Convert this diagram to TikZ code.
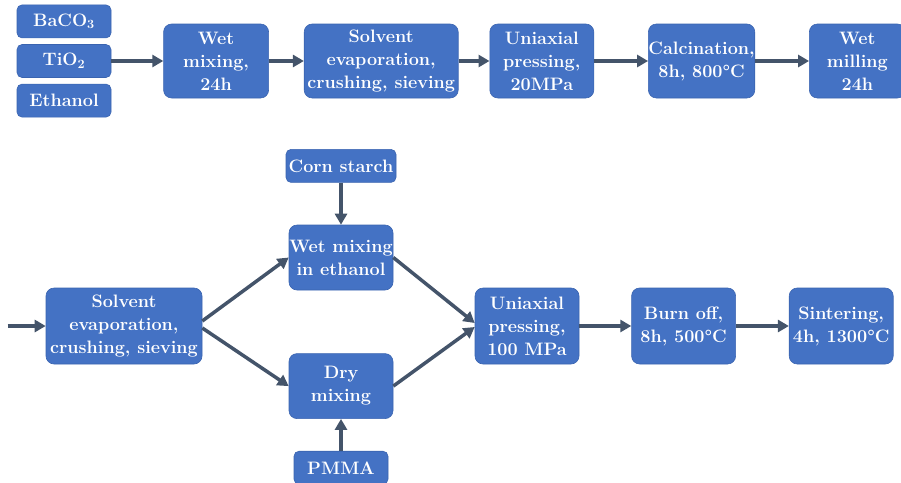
\documentclass[tikz,border=0pt]{standalone}
\usepackage{tikz}
\usetikzlibrary{positioning,arrows.meta}

\definecolor{boxblue}{HTML}{4472C4}
\definecolor{boxedge}{HTML}{3A64B0}
\definecolor{arrowgray}{HTML}{44546A}

\begin{document}
\begin{tikzpicture}[x=1pt,y=1pt,
	proc/.style={draw=boxedge, line width=0.6pt, fill=boxblue, rounded corners=8pt, text=white,
		font=\fontsize{18}{23}\selectfont\bfseries, align=center, inner sep=0pt,
		minimum width=104pt, minimum height=74pt},
	raw/.style={proc, minimum width=94pt, minimum height=33pt, rounded corners=5pt},
	flow/.style={draw=arrowgray, line width=3.5pt, -{Triangle[length=11pt,width=12pt]}}]
	\useasboundingbox (0,0) rectangle (901,-482);

	% powder synthesis
	\node[raw] (tio) at (64,-61) {TiO\textsubscript{2}};
	\node[raw, above=6pt of tio] (baco) {BaCO\textsubscript{3}};
	\node[raw, below=6pt of tio] (etoh) {Ethanol};
	\node[proc, minimum width=105pt, right=52pt of tio] (wetmix) {Wet\\mixing,\\24h};
	\node[proc, minimum width=154pt, right=35pt of wetmix] (solv) {Solvent\\evaporation,\\crushing, sieving};
	\node[proc, right=31pt of solv] (press) {Uniaxial\\pressing,\\20MPa};
	\node[proc, right=54pt of press] (calc) {Calcination,\\8h, 800\textdegree C};
	\node[proc, minimum width=96pt, right=54pt of calc] (mill) {Wet\\milling\\24h};

	\draw[flow] (tio) -- (wetmix);
	\draw[flow] (wetmix) -- (solv);
	\draw[flow] (solv) -- (press);
	\draw[flow] (press) -- (calc);
	\draw[flow] (calc) -- (mill);

	% porous ceramic
	\node[proc, minimum width=156pt, minimum height=76pt] (solv2) at (124,-326) {Solvent\\evaporation,\\crushing, sieving};
	\coordinate[left=38pt of solv2] (feed);
	\node[proc, minimum height=65pt] (wetetoh) at (341,-257.5) {Wet mixing\\in ethanol};
	\node[raw, minimum width=110pt, above=42pt of wetetoh] (corn) {Corn starch};
	\node[proc, minimum height=65pt, below=63pt of wetetoh] (dry) {Dry\\mixing};
	\node[raw, below=32pt of dry] (pmma) {PMMA};
	\node[proc, minimum height=76pt] (press2) at (527,-326) {Uniaxial\\pressing,\\100 MPa};
	\node[proc, minimum height=76pt, right=52pt of press2] (burn) {Burn off,\\8h, 500\textdegree C};
	\node[proc, minimum height=76pt, right=53pt of burn] (sinter) {Sintering,\\4h, 1300\textdegree C};

	\draw[flow] (feed) -- (solv2);
	\draw[flow] ([yshift=5pt]solv2.east) -- (wetetoh.west);
	\draw[flow] ([yshift=-2pt]solv2.east) -- (dry.west);
	\draw[flow] (corn) -- (wetetoh);
	\draw[flow] (pmma) -- (dry);
	\draw[flow] (wetetoh.east) -- ([yshift=3pt]press2.west);
	\draw[flow] (dry.east) -- ([yshift=-1pt]press2.west);
	\draw[flow] (press2) -- (burn);
	\draw[flow] (burn) -- (sinter);
\end{tikzpicture}
\end{document}
